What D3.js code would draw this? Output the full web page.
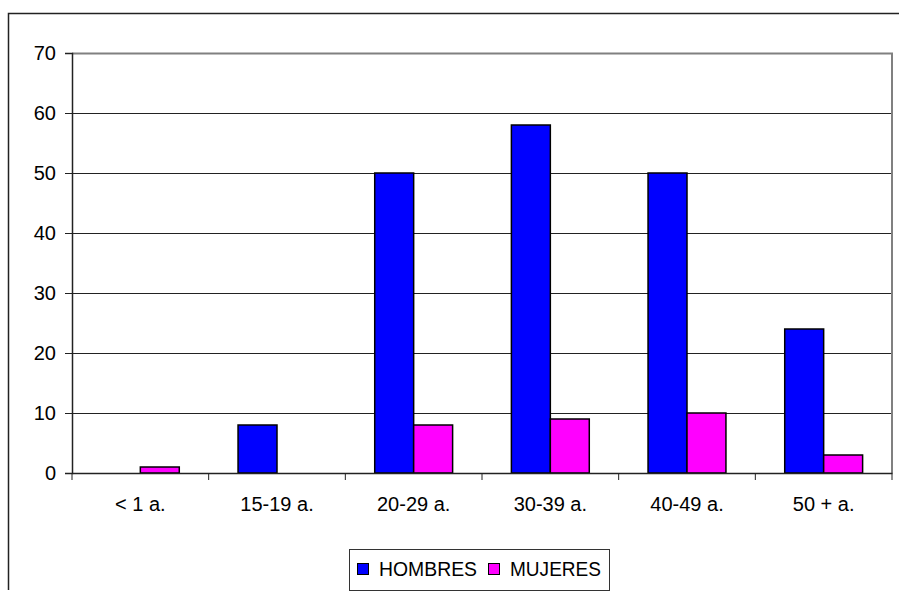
<!DOCTYPE html>
<html>
<head>
<meta charset="utf-8">
<script src="https://cdn.jsdelivr.net/npm/d3@7"></script>
<style>
body { margin: 0; background: #fff; }
svg { display: block; font-family: "Liberation Sans", Arial, sans-serif; }
</style>
</head>
<body>
<svg id="chart"></svg>
<script>
// data
const categories = ['< 1 a.', '15-19 a.', '20-29 a.', '30-39 a.', '40-49 a.', '50 + a.'];
const seriesNames = ['HOMBRES', 'MUJERES'];
const hombres = [0, 8, 50, 58, 50, 24];
const mujeres = [1, 0, 8, 9, 10, 3];
const yTicks = [0, 10, 20, 30, 40, 50, 60, 70];
const colors = ['#0000ff', '#ff00ff'];

const width = 899;
const height = 591;
const svg = d3.select('#chart')
  .attr('width', width)
  .attr('height', height);

// outer chart frame (top + left only visible)
svg.append('path')
  .attr('d', 'M8.5,590 V13.5 H899')
  .attr('fill', 'none')
  .attr('stroke', '#222')
  .attr('stroke-width', 1.5);

const plot = { left: 72, top: 53, right: 892, bottom: 473 };

const x = d3.scaleBand()
  .domain(categories)
  .range([plot.left, plot.right]);

const y = d3.scaleLinear()
  .domain([0, 70])
  .range([plot.bottom, plot.top]);

// gridlines
svg.append('g')
  .selectAll('line')
  .data(yTicks.filter(d => d > 0 && d < 70))
  .enter()
  .append('line')
  .attr('x1', plot.left)
  .attr('x2', plot.right)
  .attr('y1', d => y(d) + 0.5)
  .attr('y2', d => y(d) + 0.5)
  .attr('stroke', '#222')
  .attr('stroke-width', 1);

// plot area border (top and right, grey)
svg.append('path')
  .attr('d', `M${plot.left},${plot.top + 0.5} H${plot.right} V${plot.bottom}`)
  .attr('fill', 'none')
  .attr('stroke', '#808080')
  .attr('stroke-width', 2);

// bars
const barW = x.bandwidth() * 0.285;
const series = [hombres, mujeres];
series.forEach(function(vals, s) {
  svg.append('g')
    .selectAll('rect')
    .data(vals.map((v, i) => ({ cat: categories[i], v: v })).filter(d => d.v > 0))
    .enter()
    .append('rect')
    .attr('x', d => x(d.cat) + x.bandwidth() / 2 + (s === 0 ? -barW : 0))
    .attr('y', d => y(d.v))
    .attr('width', barW)
    .attr('height', d => plot.bottom - y(d.v))
    .attr('fill', colors[s])
    .attr('stroke', '#000')
    .attr('stroke-width', 1.5);
});

// y axis
const yAxis = d3.axisLeft(y)
  .tickValues(yTicks)
  .tickSize(7)
  .tickPadding(9);
const gy = svg.append('g')
  .attr('transform', `translate(${plot.left},0)`)
  .call(yAxis);
gy.select('.domain').attr('stroke', '#222').attr('stroke-width', 1.5);
gy.selectAll('.tick line').attr('stroke', '#222');
gy.selectAll('.tick text')
  .attr('font-size', 20)
  .attr('font-family', '"Liberation Sans", Arial, sans-serif')
  .attr('dy', '0.34em')
  .attr('fill', '#000');

// x axis
const gx = svg.append('g')
  .attr('transform', `translate(0,${plot.bottom})`)
  .call(d3.axisBottom(x).tickSize(0).tickPadding(0));
gx.select('.domain').attr('stroke', '#222').attr('stroke-width', 1.5);
gx.selectAll('.tick text')
  .attr('font-size', 20)
  .attr('font-family', '"Liberation Sans", Arial, sans-serif')
  .attr('dy', null)
  .attr('y', 38)
  .attr('fill', '#000');

// x ticks at category boundaries
const bounds = categories.map(c => x(c)).concat([plot.right]);
svg.append('g')
  .selectAll('line')
  .data(bounds)
  .enter()
  .append('line')
  .attr('x1', d => d)
  .attr('x2', d => d)
  .attr('y1', plot.bottom)
  .attr('y2', plot.bottom + 7)
  .attr('stroke', '#222')
  .attr('stroke-width', 1);

// legend
const legend = svg.append('g');
legend.append('rect')
  .attr('x', 349.5)
  .attr('y', 549.5)
  .attr('width', 260)
  .attr('height', 41)
  .attr('fill', '#fff')
  .attr('stroke', '#333')
  .attr('stroke-width', 1);

const legX = [357, 488];
const legTextW = [98, 91];
seriesNames.forEach(function(name, i) {
  legend.append('rect')
    .attr('x', legX[i] + 0.5)
    .attr('y', 563.5)
    .attr('width', 11)
    .attr('height', 11)
    .attr('fill', colors[i])
    .attr('stroke', '#000')
    .attr('stroke-width', 1);
  legend.append('text')
    .attr('x', legX[i] + 22)
    .attr('y', 576)
    .attr('font-size', 20)
    .attr('fill', '#000')
    .attr('textLength', legTextW[i])
    .attr('lengthAdjust', 'spacingAndGlyphs')
    .text(name);
});
</script>
</body>
</html>
